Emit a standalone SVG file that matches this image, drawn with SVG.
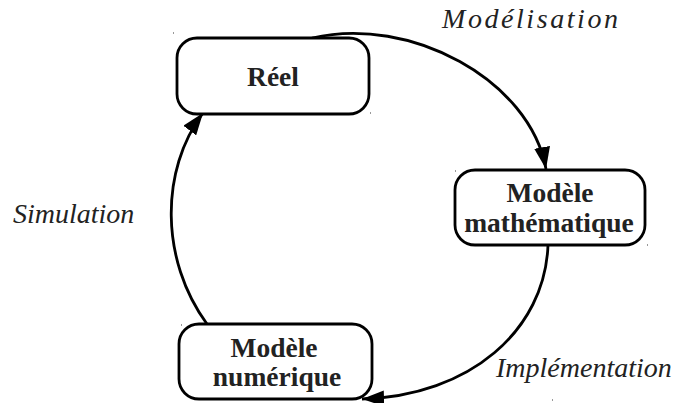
<svg xmlns="http://www.w3.org/2000/svg" width="677" height="403" viewBox="0 0 677 403">
<defs>
<marker id="arr" viewBox="0 0 22 16" refX="22" refY="8" markerWidth="22" markerHeight="16" markerUnits="userSpaceOnUse" orient="auto">
<path d="M0,0 L22,8 L0,16 Z" fill="#000"/>
</marker>
</defs>
<style>
.box{fill:#fff;stroke:#000;stroke-width:2.8}
.t{font-family:'Liberation Serif','DejaVu Serif',serif}
.nt{font-weight:bold;font-size:27.5px;fill:#222;text-anchor:middle}
.lb{font-style:italic;font-size:28px;fill:#222}
.edge{fill:none;stroke:#000;stroke-width:2.8}
.dot{fill:#999}
</style>
<rect width="677" height="403" fill="#fff"/>
<g id="connectors">
<path class="edge" d="M312,38 C410,15 530,80 546,169" marker-end="url(#arr)"/>
<path class="edge" d="M548,245 C545,330 470,396 362,399" marker-end="url(#arr)"/>
<path class="edge" d="M207,324 C160,260 160,170 203,113" marker-end="url(#arr)"/>
</g>
<g id="node-reel">
<rect class="box" x="177" y="38" width="192" height="76" rx="20"/>
<text class="t nt" x="273" y="86">Réel</text>
</g>
<g id="node-math">
<rect class="box" x="455" y="170" width="190" height="75" rx="20"/>
<text class="t nt" x="550" y="202">Modèle</text>
<text class="t nt" x="549" y="232">mathématique</text>
</g>
<g id="node-num">
<rect class="box" x="179" y="324" width="193" height="75" rx="20"/>
<text class="t nt" x="274" y="357">Modèle</text>
<text class="t nt" x="277" y="386">numérique</text>
</g>
<g id="labels">
<text class="t lb" x="442" y="28" textLength="176" lengthAdjust="spacing">Modélisation</text>
<text class="t lb" x="13" y="223">Simulation</text>
<text class="t lb" x="496" y="377">Implémentation</text>
</g>
<g id="marks">
<rect class="dot" x="173" y="32" width="1" height="2"/>
<rect class="dot" x="370" y="112" width="1" height="2"/>
<rect class="dot" x="455" y="170" width="1" height="2"/>
<rect class="dot" x="647" y="244" width="1" height="2"/>
<rect class="dot" x="181" y="324" width="1" height="2"/>
<rect class="dot" x="552" y="399" width="1" height="2"/>
</g>
</svg>
